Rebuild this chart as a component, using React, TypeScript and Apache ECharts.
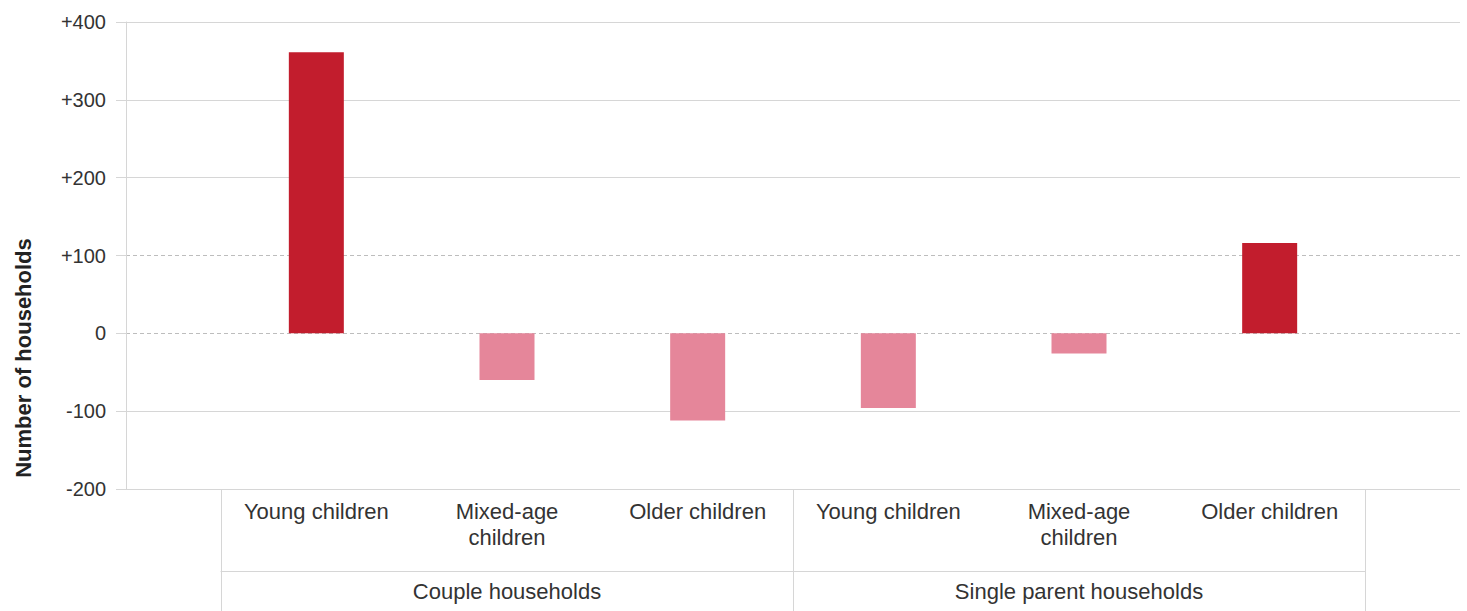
import React, { useEffect, useRef } from "react";
import * as echarts from "echarts";

const categories = [
  "Young children",
  "Mixed-age\nchildren",
  "Older children",
  "Young children",
  "Mixed-age\nchildren",
  "Older children",
];
const groups = ["Couple households", "Single parent households"];
const values = [361, -60, -112, -96, -26, 116];
const yTickLabels = ["-200", "-100", "0", "+100", "+200", "+300", "+400"];
const yMin = -200;
const yMax = 400;
const yStep = 100;
const dashedLineValues = [0, 100];
const yTitle = "Number of households";

const POS_COLOR = "#C21D2D";
const NEG_COLOR = "#E5869A";
const GRID_COLOR = "#d6d6d6";
const FONT = "'Liberation Sans', Arial, sans-serif";

export default function App() {
  const ref = useRef<HTMLDivElement>(null);
  useEffect(() => {
    if (!ref.current) return;
    const chart = echarts.init(ref.current, undefined, { renderer: "svg" });
    const tickVals: number[] = yTickLabels.map((_, i) => yMin + i * yStep);
    const solidColors = tickVals.map((v) =>
      dashedLineValues.includes(v) ? "rgba(0,0,0,0)" : GRID_COLOR
    );
    const dashedColors = tickVals.map((v) =>
      dashedLineValues.includes(v) ? "#bdbdbd" : "rgba(0,0,0,0)"
    );
    const fmt = (v: number) => {
      const i = Math.round((v - yMin) / yStep);
      return yTickLabels[i] ?? String(v);
    };
    chart.setOption({
      animation: false,
      backgroundColor: "#ffffff",
      textStyle: { fontFamily: FONT },
      grid: [
        { left: 221, right: 102, top: 22, bottom: 122, containLabel: false },
        { left: 126, right: 7, top: 22, bottom: 122, containLabel: false },
      ],
      xAxis: [
        {
          type: "category",
          gridIndex: 0,
          data: categories,
          position: "bottom",
          axisLine: { show: false, onZero: false },
          axisTick: { show: false },
          axisLabel: {
            interval: 0,
            margin: 9,
            fontSize: 22,
            lineHeight: 26,
            color: "#333",
            fontFamily: FONT,
          },
        },
        {
          type: "category",
          gridIndex: 0,
          data: groups,
          position: "bottom",
          offset: 82,
          axisLine: { show: true, onZero: false, lineStyle: { color: GRID_COLOR } },
          axisTick: { show: false },
          axisLabel: {
            interval: 0,
            margin: 9,
            fontSize: 22,
            color: "#333",
            fontFamily: FONT,
          },
        },
        {
          type: "category",
          gridIndex: 0,
          data: groups,
          position: "bottom",
          axisLine: { show: false, onZero: false },
          axisTick: {
            show: true,
            interval: 0,
            length: 122,
            lineStyle: { color: GRID_COLOR },
          },
          axisLabel: { show: false },
        },
        {
          type: "value",
          gridIndex: 1,
          min: 0,
          max: 1,
          show: false,
        },
      ],
      yAxis: [
        {
          type: "value",
          gridIndex: 0,
          min: yMin,
          max: yMax,
          interval: yStep,
          show: false,
        },
        {
          type: "value",
          gridIndex: 1,
          min: yMin,
          max: yMax,
          interval: yStep,
          position: "left",
          axisLine: { show: true, onZero: false, lineStyle: { color: GRID_COLOR } },
          axisTick: { show: true, length: 10, lineStyle: { color: GRID_COLOR } },
          axisLabel: {
            formatter: fmt,
            fontSize: 20,
            color: "#333",
            margin: 20,
            fontFamily: FONT,
          },
          splitLine: {
            show: true,
            lineStyle: { color: solidColors, width: 1, type: "solid" },
          },
        },
        {
          type: "value",
          gridIndex: 1,
          min: yMin,
          max: yMax,
          interval: yStep,
          position: "left",
          axisLine: { show: false },
          axisTick: { show: false },
          axisLabel: { show: false },
          splitLine: {
            show: true,
            lineStyle: { color: dashedColors, width: 1, type: [4, 3] },
          },
        },
      ],
      series: [
        {
          type: "bar",
          xAxisIndex: 0,
          yAxisIndex: 0,
          data: values,
          barWidth: 55,
          z: 5,
          itemStyle: {
            color: (p: any) => (p.value >= 0 ? POS_COLOR : NEG_COLOR),
          },
        },
      ],
      graphic: [
        {
          type: "text",
          x: 23,
          y: 358,
          rotation: Math.PI / 2,
          style: {
            text: yTitle,
            fontSize: 22,
            fontWeight: "bold",
            fontFamily: FONT,
            fill: "#222",
            align: "center",
            verticalAlign: "middle",
          },
        },
      ],
    });
    return () => chart.dispose();
  }, []);
  return (
    <div
      ref={ref}
      style={{ position: "absolute", left: 0, top: 0, width: 1467, height: 611 }}
    />
  );
}
